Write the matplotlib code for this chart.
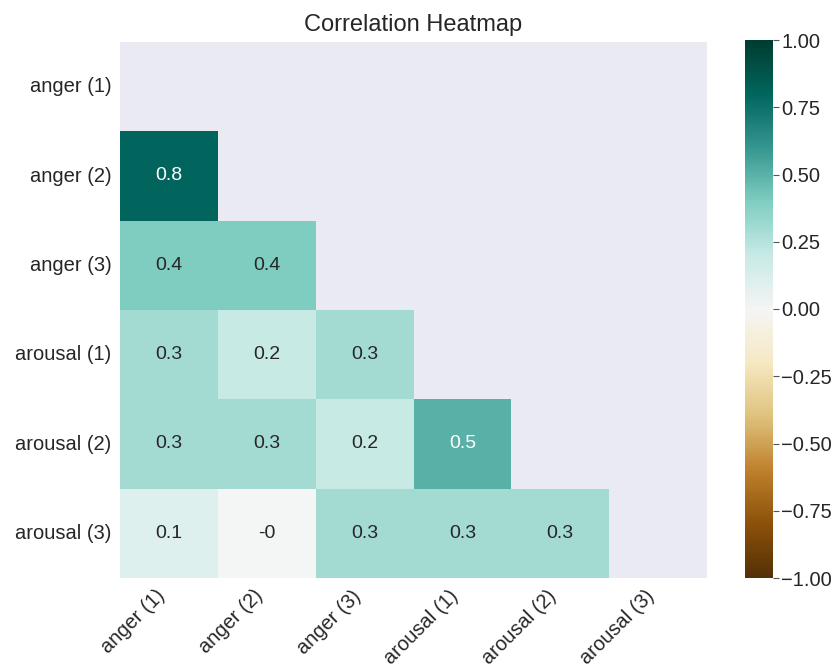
import numpy as np
import pandas as pd
import seaborn as sns
import matplotlib
matplotlib.use("Agg")
import matplotlib.pyplot as plt

labels = ["anger (1)", "anger (2)", "anger (3)",
          "arousal (1)", "arousal (2)", "arousal (3)"]

# lower triangle of the correlation matrix (rounded to 1 decimal)
row_anger2 = [0.8]
row_anger3 = [0.4, 0.4]
row_arousal1 = [0.3, 0.2, 0.3]
row_arousal2 = [0.3, 0.3, 0.2, 0.5]
row_arousal3 = [0.1, -0.0, 0.3, 0.3, 0.3]

lower_rows = [[], row_anger2, row_anger3, row_arousal1, row_arousal2, row_arousal3]

n = len(labels)
corr = np.eye(n)
for i, row in enumerate(lower_rows):
    for j, v in enumerate(row):
        corr[i, j] = v
        corr[j, i] = v
corr = pd.DataFrame(corr, index=labels, columns=labels)

mask = np.triu(np.ones_like(corr, dtype=bool))

sns.set_theme(style="darkgrid")
plt.rcParams['font.family'] = ['Liberation Sans', 'DejaVu Sans']

fig = plt.figure(figsize=(8.35, 6.71), dpi=100)
ax = fig.add_axes([120/835, 1 - 578/671, 587/835, 536/671])
cax = fig.add_axes([745/835, 1 - 578/671, 28/835, 538/671])

sns.heatmap(corr, mask=mask, cmap="BrBG", vmin=-1, vmax=1, annot=True,
            annot_kws={"size": 14}, ax=ax, cbar_ax=cax)
ax.grid(False)

ax.set_title("Correlation Heatmap", fontsize=17, pad=8)
ax.set_xticklabels(labels, rotation=45, ha="right", fontsize=14.5)
ax.set_yticklabels(labels, rotation=0, fontsize=14.5)
ax.tick_params(length=0, pad=6)

cax.grid(False)
cax.set_yticks([-1, -0.75, -0.5, -0.25, 0, 0.25, 0.5, 0.75, 1])
cax.set_yticklabels(["%.2f" % t if t >= 0 else "\u2212%.2f" % -t
                     for t in [-1, -0.75, -0.5, -0.25, 0, 0.25, 0.5, 0.75, 1]])
cax.tick_params(axis="y", length=4, width=0.8, color="#555555", labelsize=14.5, pad=2)

fig.savefig("out.png", dpi=100)
